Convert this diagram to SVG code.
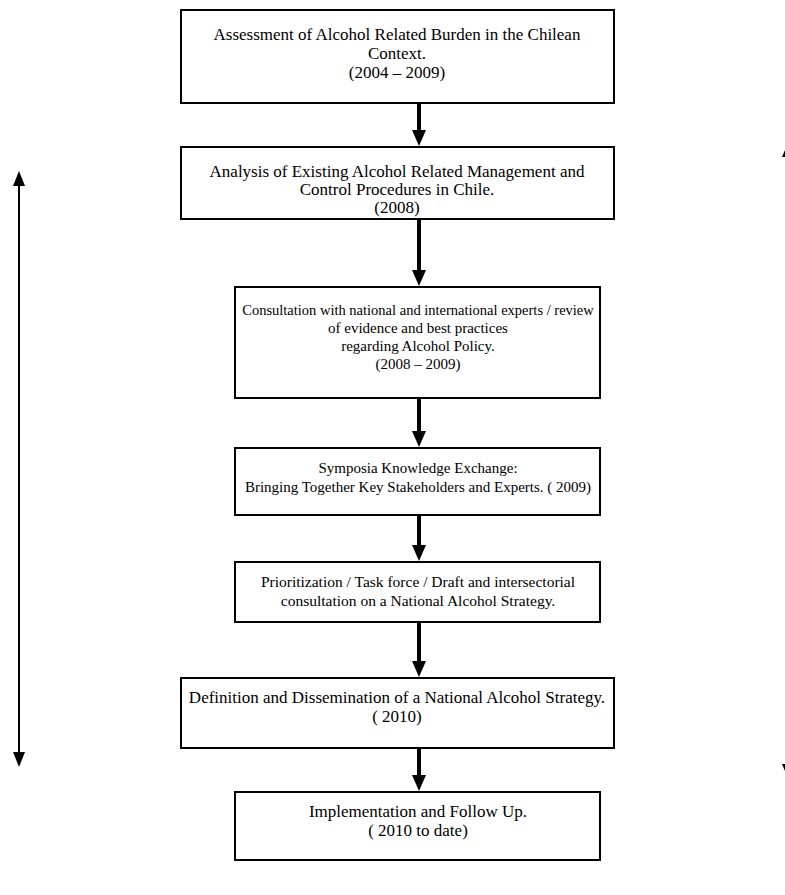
<svg xmlns="http://www.w3.org/2000/svg" width="785" height="895" viewBox="0 0 785 895">
<style>
.box{fill:#fff;stroke:#000;stroke-width:2}
text{font-family:"Liberation Serif","Times New Roman",serif;fill:#000;text-anchor:middle}
.w text{font-size:17px}
.n text{font-size:15px}
.sh{stroke:#000;stroke-width:4}
.thin{stroke:#000;stroke-width:2}
.hd{fill:#000}
</style>
<defs>
<path id="head" d="M-7,-16 L7,-16 L0,0 Z"/>
</defs>
<rect width="785" height="895" fill="#fff"/>
<g id="connectors">
<line class="sh" x1="419" y1="103" x2="419" y2="132"/>
<use href="#head" class="hd" x="419" y="146"/>
<line class="sh" x1="419" y1="219" x2="419" y2="272"/>
<use href="#head" class="hd" x="419" y="286"/>
<line class="sh" x1="419" y1="398" x2="419" y2="433"/>
<use href="#head" class="hd" x="419" y="447"/>
<line class="sh" x1="419" y1="515" x2="419" y2="547"/>
<use href="#head" class="hd" x="419" y="561"/>
<line class="sh" x1="419" y1="622" x2="419" y2="663"/>
<use href="#head" class="hd" x="419" y="677"/>
<line class="sh" x1="419" y1="748" x2="419" y2="777"/>
<use href="#head" class="hd" x="419" y="791"/>
<line class="thin" x1="19" y1="184" x2="19" y2="754"/>
<path d="M13,186 L25,186 L19,171 Z" fill="#000"/>
<path d="M13,752 L25,752 L19,767 Z" fill="#000"/>
<path d="M782,157 L785,157 L785,150 Z" fill="#000"/>
<path d="M782,764 L785,764 L785,771 Z" fill="#000"/>
</g>
<g id="n1" class="w">
<rect class="box" x="181" y="10" width="433" height="93"/>
<text x="397" y="40">Assessment of Alcohol Related Burden in the Chilean</text>
<text x="397" y="59">Context.</text>
<text x="397" y="78">(2004 – 2009)</text>
</g>
<g id="n2" class="w">
<rect class="box" x="181" y="147" width="433" height="72"/>
<text x="397" y="177">Analysis of Existing Alcohol Related Management and</text>
<text x="397" y="195">Control Procedures  in Chile.</text>
<text x="397" y="213">(2008)</text>
</g>
<g id="n3" class="n">
<rect class="box" x="235" y="287" width="365" height="111"/>
<text x="418" y="315" style="font-size:14.5px">Consultation with national and international experts / review</text>
<text x="418" y="333">of evidence and best practices</text>
<text x="418" y="351">regarding Alcohol Policy.</text>
<text x="418" y="369">(2008 – 2009)</text>
</g>
<g id="n4" class="n">
<rect class="box" x="235" y="448" width="365" height="67"/>
<text x="418" y="473">Symposia Knowledge Exchange:</text>
<text x="418" y="492">Bringing Together Key Stakeholders and Experts. ( 2009)</text>
</g>
<g id="n5" class="n">
<rect class="box" x="235" y="562" width="365" height="60"/>
<text x="418" y="587" style="font-size:15.5px">Prioritization / Task force / Draft and intersectorial</text>
<text x="418" y="606" style="font-size:15.5px">consultation on a National Alcohol Strategy.</text>
</g>
<g id="n6" class="w">
<rect class="box" x="181" y="678" width="433" height="70"/>
<text x="397" y="703">Definition and Dissemination of a National Alcohol Strategy.</text>
<text x="397" y="722">( 2010)</text>
</g>
<g id="n7" class="w">
<rect class="box" x="235" y="792" width="365" height="68"/>
<text x="418" y="817">Implementation and Follow Up.</text>
<text x="418" y="836">( 2010 to date)</text>
</g>
</svg>
